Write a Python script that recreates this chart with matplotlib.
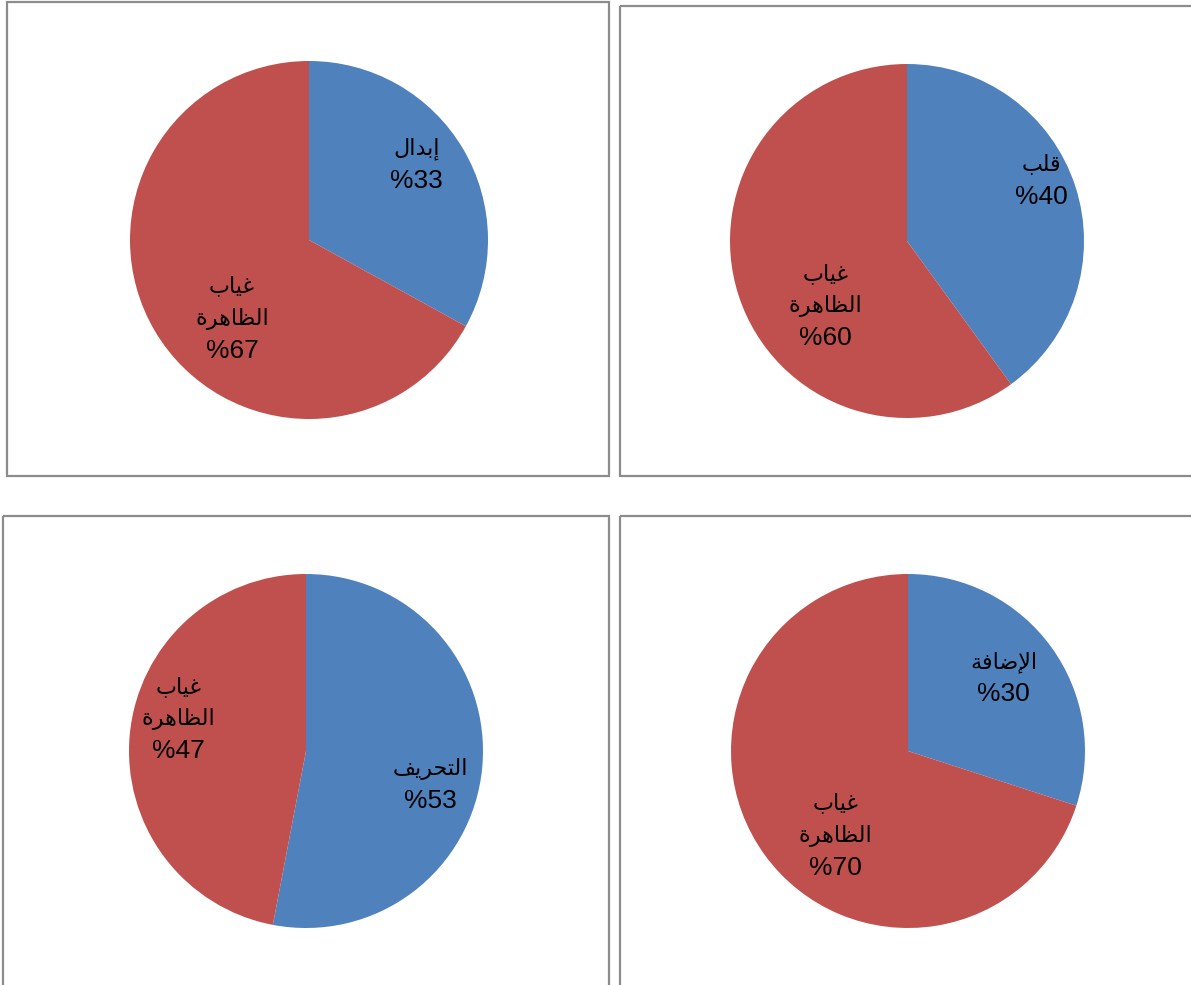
import matplotlib
matplotlib.use("Agg")
import matplotlib.pyplot as plt
from matplotlib.patches import Rectangle
from matplotlib.transforms import offset_copy

plt.rcParams['font.family'] = ['Liberation Sans', 'DejaVu Sans']

# Arabic labels, pre-shaped (presentation forms, visual order)
ABSENT = ["\uFE8F\uFE8E\uFEF4\uFECF", "\uFE93\uFEAE\uFEEB\uFE8E\uFEC8\uFEDF\uFE8D"]  # غياب / الظاهرة
categories = [
    "\uFEDD\uFE8D\uFEAA\uFE91\uFE87",                 # إبدال
    "\uFE90\uFEE0\uFED7",                             # قلب
    "\uFED2\uFEF3\uFEAE\uFEA4\uFE98\uFEDF\uFE8D",     # التحريف
    "\uFE94\uFED3\uFE8E\uFEBF\uFEF9\uFE8D",           # الإضافة
]
present_pct = [33, 40, 53, 30]
absent_pct = [67, 60, 47, 70]

BLUE = "#4F81BD"
RED = "#C0504D"
W, H = 1191, 985
LINE_PX = 32

fig = plt.figure(figsize=(W / 100, H / 100), dpi=100)

# background axes in pixel coordinates for the frames
bg = fig.add_axes([0, 0, 1, 1])
bg.set_xlim(0, W)
bg.set_ylim(H, 0)
bg.axis("off")
frames = [(7, 2, 602, 474), (620, 6, 580, 470), (3, 516, 606, 480), (620, 516, 580, 480)]
for x, y, w, h in frames:
    bg.add_patch(Rectangle((x, y), w, h, fill=False, edgecolor="#8c8c8c", linewidth=1.6))

# pie centres / radii (pixels) and label spots (relative to radius)
pies = [(309, 240, 179), (907, 241, 177), (306, 751, 177), (908, 751, 177)]
label_pos = [
    ((0.60, 0.42), (-0.43, -0.44)),
    ((0.76, 0.34), (-0.46, -0.37)),
    ((0.70, -0.19), (-0.72, 0.18)),
    ((0.54, 0.41), (-0.41, -0.48)),
]


def stacked_label(ax, x, y, lines):
    n = len(lines)
    for k, txt in enumerate(lines):
        is_pct = txt.startswith("%")
        tr = offset_copy(ax.transData, fig=fig, y=-(k - (n - 1) / 2) * LINE_PX, units="dots")
        ax.text(x, y, txt, transform=tr, ha="center", va="center",
                fontsize=19 if is_pct else 16, color="black")


for i, (cx, cy, r) in enumerate(pies):
    ax = fig.add_axes([(cx - r) / W, 1 - (cy + r) / H, 2 * r / W, 2 * r / H])
    ax.pie([present_pct[i], absent_pct[i]], colors=[BLUE, RED], startangle=90,
           counterclock=False, radius=1, wedgeprops=dict(linewidth=0))
    ax.set_xlim(-1, 1)
    ax.set_ylim(-1, 1)
    ax.set_aspect("equal")
    ax.axis("off")
    (bx, by), (rx, ry) = label_pos[i]
    stacked_label(ax, bx, by, [categories[i], f"%{present_pct[i]}"])
    stacked_label(ax, rx, ry, ABSENT + [f"%{absent_pct[i]}"])

fig.savefig("out.png", dpi=100)
